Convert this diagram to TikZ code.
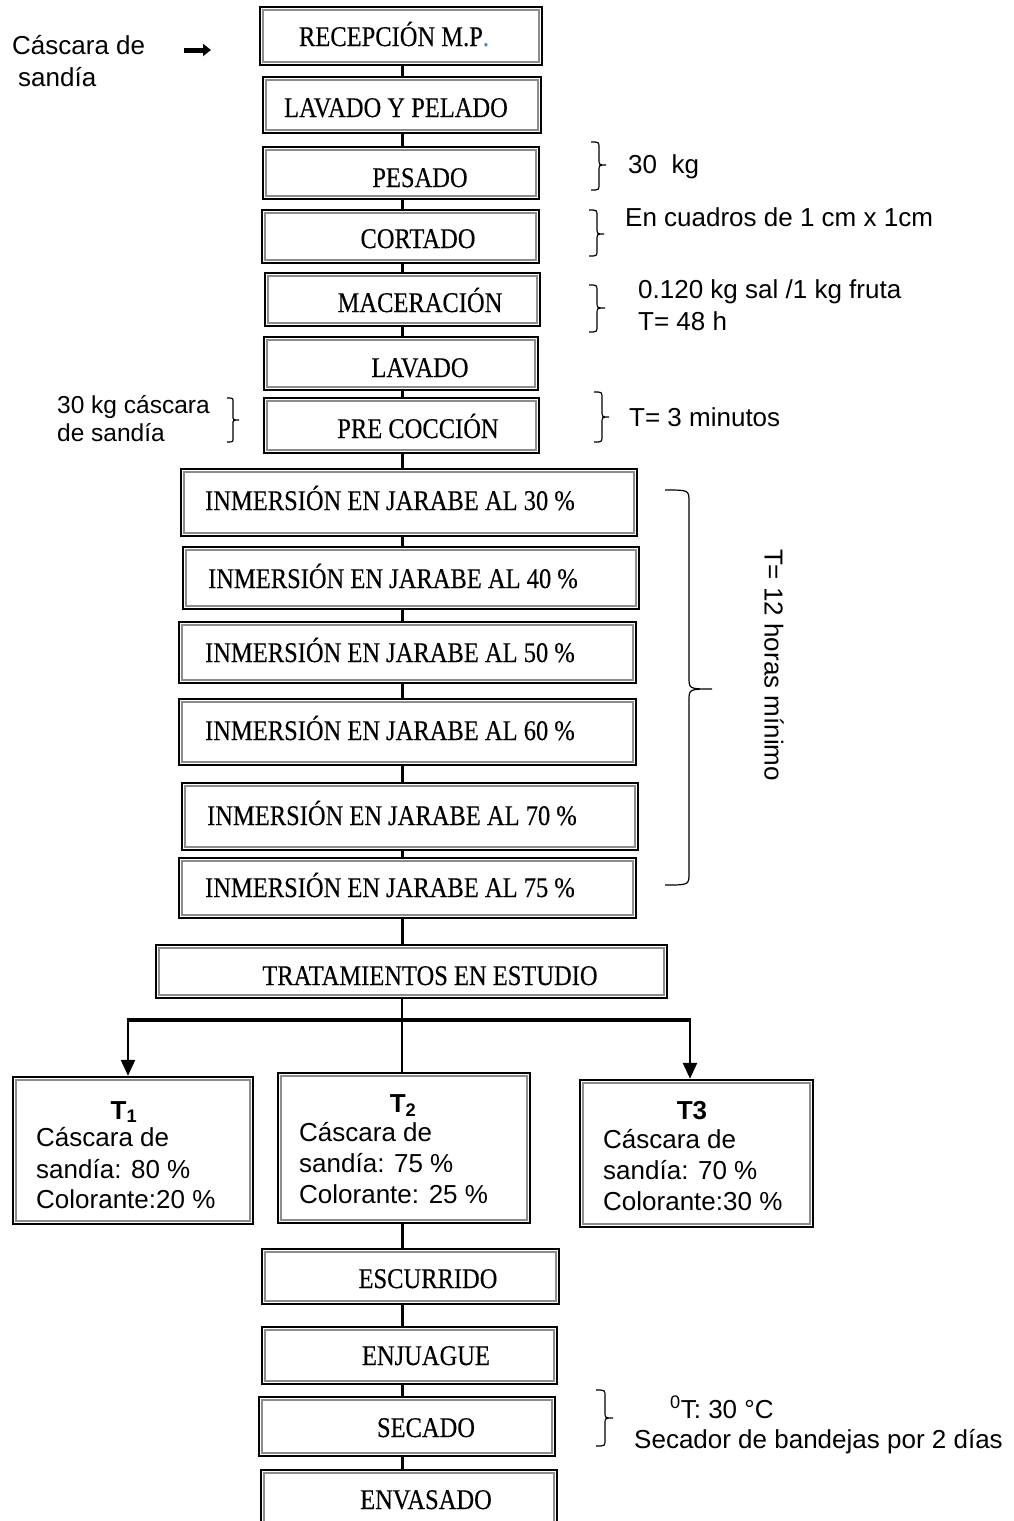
\documentclass[tikz,border=0pt]{standalone}
\usepackage{fontspec}
\setmainfont{Liberation Serif}
\newfontfamily\stepfont[FakeStretch=0.86, FakeBold=0.25]{Liberation Serif}
\newfontfamily\arialfont{Liberation Sans}
\usetikzlibrary{arrows.meta}

\definecolor{mpblue}{HTML}{4F81BD}
\definecolor{innergray}{gray}{0.55}

\tikzset{
  box/.style={draw=black, line width=2.4pt, fill=white, inner sep=0pt,
    path picture={\draw[innergray, line width=1.4pt]
      ([shift={(2.9pt,2.9pt)}]path picture bounding box.south west) rectangle
      ([shift={(-2.9pt,-2.9pt)}]path picture bounding box.north east);}},
  steptext/.style={font=\stepfont\fontsize{28.5pt}{31pt}\selectfont, inner sep=0pt, anchor=base},
  note/.style={font=\arialfont\fontsize{26pt}{30pt}\selectfont, inner sep=0pt, anchor=base west},
  smallnote/.style={font=\arialfont\fontsize{24.5pt}{28pt}\selectfont, inner sep=0pt, anchor=base west},
  ttitle/.style={font=\arialfont\bfseries\fontsize{26pt}{30pt}\selectfont, inner sep=0pt, anchor=base},
  link/.style={line width=3pt},
  thinlink/.style={line width=2pt},
  branch/.style={line width=3.5pt},
  arrowlink/.style={line width=2.5pt, -{Triangle[width=14pt,length=16pt]}},
  bracepen/.style={line width=1.2pt},
}

% box from its corners: name, x1, y1, x2, y2
\newcommand\flowbox[5]{\node[box, minimum width={#4-#2}, minimum height={#5-#3}] (#1) at ({(#2+#4)/2},{(#3+#5)/2}) {};}
% right-pointing brace: hook x, spine x, tip x, top, middle, bottom, corner size
\newcommand\sidebrace[7]{\draw[bracepen] (#1,#4) .. controls (#2,#4) .. (#2,#4+#7) -- (#2,#5-#7) .. controls (#2,#5) .. (#3,#5) .. controls (#2,#5) .. (#2,#5+#7) -- (#2,#6-#7) .. controls (#2,#6) .. (#1,#6);}

\begin{document}
\begin{tikzpicture}[x=1pt, y=-1pt]
\path[use as bounding box, fill=white] (0,0) rectangle (1014,1521);

\coordinate (axis) at (402,0);

% process steps
\flowbox{b1}{260}{7}{542}{65}
\flowbox{b2}{263}{77}{541}{133}
\flowbox{b3}{263}{147}{539}{199}
\flowbox{b4}{262}{210}{539}{263}
\flowbox{b5}{265}{273}{540}{326}
\flowbox{b6}{264}{337}{538}{390}
\flowbox{b7}{264}{398}{539}{453}
\flowbox{i1}{181}{469}{637}{536}
\flowbox{i2}{183}{547}{639}{609}
\flowbox{i3}{179}{622}{636}{683}
\flowbox{i4}{179}{699}{636}{765}
\flowbox{i5}{182}{783}{638}{850}
\flowbox{i6}{179}{858}{636}{918}
\flowbox{tr}{156}{945}{667}{998}
\flowbox{t1}{13}{1077}{253}{1224}
\flowbox{t2}{278}{1073}{530}{1223}
\flowbox{t3}{580}{1080}{813}{1227}
\flowbox{e1}{262}{1249}{559}{1304}
\flowbox{e2}{262}{1327}{557}{1384}
\flowbox{e3}{259}{1397}{555}{1456}
\flowbox{e4}{261}{1470}{557}{1535}

% step labels
\node[steptext] (lb1) at (394,46) {RECEPCIÓN M.P\textcolor{mpblue}{.}};
\node[steptext] (lb2) at (396,117) {LAVADO Y PELADO};
\node[steptext] (lb3) at (420,187) {PESADO};
\node[steptext] (lb4) at (418,248) {CORTADO};
\node[steptext] (lb5) at (420,312) {MACERACIÓN};
\node[steptext] (lb6) at (420,377) {LAVADO};
\node[steptext] (lb7) at (418,438) {PRE COCCIÓN};
\node[steptext] (li1) at (390,510) {INMERSIÓN EN JARABE AL 30 \%};
\node[steptext] (li2) at (393,588) {INMERSIÓN EN JARABE AL 40 \%};
\node[steptext] (li3) at (390,662) {INMERSIÓN EN JARABE AL 50 \%};
\node[steptext] (li4) at (390,740) {INMERSIÓN EN JARABE AL 60 \%};
\node[steptext] (li5) at (392,825) {INMERSIÓN EN JARABE AL 70 \%};
\node[steptext] (li6) at (390,897) {INMERSIÓN EN JARABE AL 75 \%};
\node[steptext] (ltr) at (430,985) {TRATAMIENTOS EN ESTUDIO};
\node[steptext] (le1) at (428,1288) {ESCURRIDO};
\node[steptext] (le2) at (426,1365) {ENJUAGUE};
\node[steptext] (le3) at (426,1437) {SECADO};
\node[steptext] (le4) at (426,1509) {ENVASADO};

% treatments
\node[ttitle] (tt1) at (124,1119) {T\textsubscript{1}};
\node[note] (t1a) at (36,1146) {Cáscara de};
\node[note] (t1b) at (36,1178) {sandía: 80 \%};
\node[note] (t1c) at (36,1208) {Colorante:20 \%};
\node[ttitle] (tt2) at (403,1112) {T\textsubscript{2}};
\node[note] (t2a) at (299,1141) {Cáscara de};
\node[note] (t2b) at (299,1172) {sandía: 75 \%};
\node[note] (t2c) at (299,1203) {Colorante: 25 \%};
\node[ttitle] (tt3) at (692,1119) {T3};
\node[note] (t3a) at (603,1148) {Cáscara de};
\node[note] (t3b) at (603,1179) {sandía: 70 \%};
\node[note] (t3c) at (603,1210) {Colorante:30 \%};

% main flow
\draw[link] (b1.south -| axis) -- (b2.north -| axis);
\draw[link] (b2.south -| axis) -- (b3.north -| axis);
\draw[link] (b3.south -| axis) -- (b4.north -| axis);
\draw[link] (b4.south -| axis) -- (b5.north -| axis);
\draw[link] (b5.south -| axis) -- (b6.north -| axis);
\draw[link] (b6.south -| axis) -- (b7.north -| axis);
\draw[link] (b7.south -| axis) -- (i1.north -| axis);
\draw[link] (i1.south -| axis) -- (i2.north -| axis);
\draw[link] (i2.south -| axis) -- (i3.north -| axis);
\draw[link] (i3.south -| axis) -- (i4.north -| axis);
\draw[link] (i4.south -| axis) -- (i5.north -| axis);
\draw[link] (i5.south -| axis) -- (i6.north -| axis);
\draw[link] (i6.south -| axis) -- (tr.north -| axis);
\draw[thinlink] (tr.south -| axis) -- (t2.north -| axis);
\draw[link] (t2.south -| axis) -- (e1.north -| axis);
\draw[link] (e1.south -| axis) -- (e2.north -| axis);
\draw[link] (e2.south -| axis) -- (e3.north -| axis);
\draw[link] (e3.south -| axis) -- (e4.north -| axis);

% branching to the treatments
\coordinate (brL) at (128,1020);
\coordinate (brR) at (690,1020);
\draw[branch] ([xshift=-1.25pt]brL) -- ([xshift=1.25pt]brR);
\draw[arrowlink] (brL) -- (t1.north -| brL);
\draw[arrowlink] (brR) -- (t3.north -| brR);

% raw material input
\node[note] (in1) at (12,54) {Cáscara de};
\node[note] (in2) at (18,86) {sandía};
\coordinate (inA) at (184,50);
\coordinate (inB) at (211,50);
\draw[line width=5pt, -{Triangle[width=12pt,length=8pt]}] (inA) -- (inB);

% side notes
\node[smallnote] (kg1) at (57,413) {30 kg cáscara};
\node[smallnote] (kg2) at (57,441) {de sandía};
\sidebrace{227}{233}{239}{398}{420}{442}{4}

\node[note] (n1) at (628,173) {30~ kg};
\sidebrace{591}{599}{606}{142}{165}{190}{6}
\node[note] (n2) at (625,226) {En cuadros de 1 cm x 1cm};
\sidebrace{589}{597}{604}{210}{234}{256}{6}
\node[note] (n3) at (638,298) {0.120 kg sal /1 kg fruta};
\node[note] (n4) at (638,330) {T= 48 h};
\sidebrace{589}{597}{605}{285}{308}{332}{6}
\node[note] (n5) at (629,426) {T= 3 minutos};
\sidebrace{594}{602}{609}{392}{417}{442}{6}

\sidebrace{665}{689}{712}{490}{689}{885}{12}
\node[font=\arialfont\fontsize{26pt}{30pt}\selectfont, inner sep=0pt, rotate=-90] (n6) at (774,665) {T= 12 horas mínimo};

\node[note] (n7) at (670,1418) {\textsuperscript{0}T: 30 °C};
\node[note] (n8) at (634,1448) {Secador de bandejas por 2 días};
\sidebrace{596}{605}{613}{1390}{1418}{1446}{6}

\end{tikzpicture}
\end{document}
